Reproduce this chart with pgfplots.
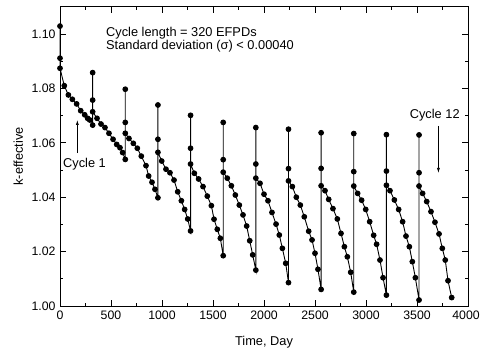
\documentclass[border=0pt]{standalone}
\usepackage{pgfplots}
\pgfplotsset{compat=1.18}
\usepackage{fontspec}
\setmainfont{Liberation Sans}
\usetikzlibrary{arrows.meta}
\begin{document}
\fontsize{12.8pt}{14pt}\selectfont
\begin{tikzpicture}
\begin{axis}[name=ax,
  scale only axis, width=408pt, height=299.2pt,
  xmin=0, xmax=4000, ymin=1.00, ymax=1.11,
  xtick={0,500,...,4000}, minor x tick num=1,
  xticklabels={0,500,1000,1500,2000,2500,3000,3500,{\hspace*{-4pt}4000}},
  ytick={1.00,1.02,1.04,1.06,1.08,1.10}, minor y tick num=1,
  tick align=inside, tick pos=both,
  major tick length=6pt, minor tick length=3pt,
  axis line style={line width=0.9pt},
  every tick/.style={black, line width=0.8pt},
  yticklabel style={/pgf/number format/fixed, /pgf/number format/precision=2, /pgf/number format/fixed zerofill},
  /pgf/number format/assume math mode=true,
  tick label style={font=\fontsize{12.3pt}{14pt}\selectfont},
  label style={font=\fontsize{12.8pt}{14pt}\selectfont},
  xlabel={Time, Day}, ylabel={k-effective},
  xlabel style={at={(axis description cs:0.5,-0.12)}, anchor=center},
  ylabel style={at={(axis description cs:-0.102,0.5)}, anchor=center},
  clip=false,
]
\addplot[black, line width=0.9pt, mark=*, mark size=2.4pt, mark options={fill=black}] coordinates {
(0,1.1029)(0,1.0911)(0,1.0874)(42,1.0810)(82,1.0776)(121,1.0760)(163,1.0743)(203,1.0718)(242,1.0703)(271,1.0690)(291,1.0684)(320,1.0665)
(320,1.0858)(320,1.0757)(320,1.0714)
(363,1.0690)(402,1.0669)(441,1.0656)(480,1.0635)(520,1.0613)(556,1.0594)(588,1.0582)(614,1.0564)(640,1.0539)
(640,1.0797)(640,1.0675)(640,1.0635)
(676,1.0616)(719,1.0598)(758,1.0580)(797,1.0551)(843,1.0516)(869,1.0478)(902,1.0455)(931,1.0429)(960,1.0398)
(960,1.0739)(960,1.0613)(960,1.0565)
(997,1.0533)(1039,1.0503)(1078,1.0490)(1118,1.0463)(1154,1.0420)(1190,1.0387)(1222,1.0355)(1252,1.0320)(1280,1.0276)
(1280,1.0701)(1280,1.0580)(1280,1.0522)
(1317,1.0488)(1359,1.0467)(1402,1.0439)(1444,1.0404)(1484,1.0369)(1510,1.0319)(1542,1.0282)(1572,1.0249)(1600,1.0185)
(1600,1.0675)(1600,1.0538)(1600,1.0492)
(1640,1.0470)(1680,1.0442)(1719,1.0408)(1758,1.0371)(1794,1.0335)(1830,1.0294)(1860,1.0240)(1889,1.0188)(1920,1.0132)
(1920,1.0656)(1920,1.0522)(1920,1.0470)
(1961,1.0451)(2000,1.0411)(2039,1.0387)(2078,1.0344)(2118,1.0301)(2150,1.0261)(2180,1.0212)(2213,1.0157)(2240,1.0086)
(2240,1.0650)(2240,1.0505)(2240,1.0460)
(2278,1.0439)(2317,1.0400)(2356,1.0371)(2395,1.0328)(2438,1.0275)(2471,1.0243)(2500,1.0194)(2529,1.0135)(2560,1.0061)
(2560,1.0637)(2560,1.0506)(2560,1.0442)
(2598,1.0424)(2634,1.0392)(2676,1.0358)(2719,1.0320)(2755,1.0267)(2788,1.0218)(2817,1.0181)(2850,1.0124)(2880,1.0051)
(2880,1.0634)(2880,1.0494)(2880,1.0441)
(2918,1.0414)(2957,1.0389)(2997,1.0355)(3036,1.0310)(3075,1.0260)(3104,1.0227)(3137,1.0169)(3167,1.0104)(3200,1.0040)
(3200,1.0630)(3200,1.0496)(3200,1.0444)
(3235,1.0424)(3278,1.0390)(3320,1.0355)(3359,1.0310)(3392,1.0257)(3425,1.0218)(3454,1.0163)(3484,1.0104)(3520,1.0022)
(3520,1.0629)(3520,1.0490)(3520,1.0441)
(3555,1.0414)(3595,1.0384)(3637,1.0347)(3676,1.0308)(3716,1.0265)(3748,1.0212)(3777,1.0169)(3804,1.0093)(3840,1.0031)
};
\node[anchor=base west, inner sep=0pt] at (axis cs:451,1.0990) {Cycle length = 320 EFPDs};
\node[anchor=base west, inner sep=0pt] at (axis cs:451,1.0943) {Standard deviation (σ) < 0.00040};
\node[anchor=west, inner sep=0pt] at (axis cs:29,1.052) {Cycle 1};
\node[anchor=east, inner sep=0pt] at (axis cs:3920,1.0702) {Cycle 12};
\draw[-{Latex[length=5pt,width=3pt]}, line width=0.7pt] (axis cs:170,1.0562) -- (axis cs:170,1.0684);
\draw[-{Latex[length=5pt,width=3pt]}, line width=0.7pt] (axis cs:3710,1.0662) -- (axis cs:3710,1.0489);
\end{axis}
\pgfresetboundingbox
\path[use as bounding box] ([xshift=-60pt,yshift=-48pt]ax.south west) rectangle ([xshift=12pt,yshift=6.8pt]ax.north east);
\end{tikzpicture}
\end{document}
